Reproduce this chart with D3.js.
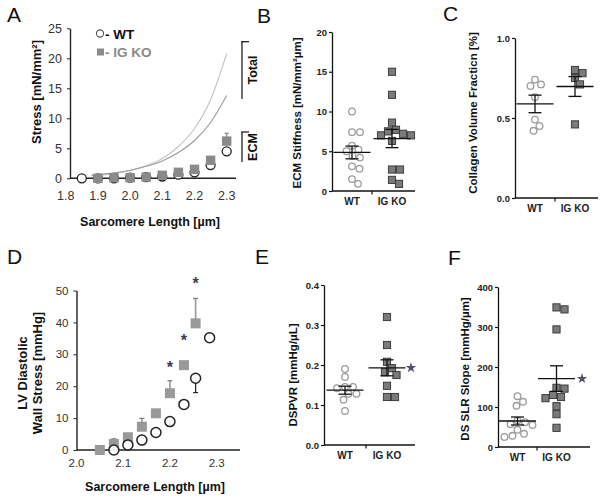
<!DOCTYPE html>
<html><head><meta charset="utf-8">
<script src="https://cdn.jsdelivr.net/npm/d3@7"></script>
<style>
body{margin:0;background:#fff}
svg{display:block}
text{font-family:"Liberation Sans",Arial,sans-serif}
</style></head>
<body><svg id="c" width="602" height="499"></svg>
<script>
// ---------- DATA ----------
// Panel A: passive stress vs sarcomere length
const aSL      = [1.85, 1.90, 1.95, 2.00, 2.05, 2.10, 2.15, 2.20, 2.25, 2.30];
const aWT      = [0.0, 0.0, 0.0, 0.1, 0.2, 0.3, 0.6, 1.0, 2.2, 4.5];
const aKO      = [null, 0.0, 0.1, 0.1, 0.2, 0.5, 1.0, 1.5, 3.0, 6.2];
const aKOErr   = [null, null, null, null, null, null, null, null, 0.3, 1.3];
const aCurveSL = [1.88, 1.90, 1.95, 2.00, 2.05, 2.10, 2.15, 2.20, 2.25, 2.30];
const aTotalKO = [0.4, 0.5, 0.8, 1.3, 2.1, 3.3, 5.3, 8.3, 13.1, 20.8];
const aTotalWT = [0.5, 0.6, 0.9, 1.35, 2.0, 2.9, 4.3, 6.3, 9.3, 13.8];
const aXTicks  = [1.8, 1.9, 2.0, 2.1, 2.2, 2.3];
const aYTicks  = [0, 5, 10, 15, 20, 25];

const groups = ["WT", "IG KO"];

// Panel B: ECM stiffness
const bWT = [10.0, 7.4, 7.4, 5.7, 5.2, 5.0, 4.4, 4.2, 3.1, 2.8, 1.5, 0.9];
const bKO = [15.0, 12.1, 8.6, 7.7, 7.5, 7.2, 7.0, 7.0, 6.3, 2.7, 2.7, 1.4, 0.9];
const bMean = [4.85, 6.6];
const bSem  = [0.8, 1.15];
const bTicks = [0, 5, 10, 15, 20];

// Panel C: collagen volume fraction
const cWT = [0.74, 0.71, 0.70, 0.63, 0.49, 0.45, 0.42];
const cKO = [0.80, 0.78, 0.75, 0.71, 0.46];
const cMean = [0.588, 0.697];
const cSem  = [0.055, 0.062];
const cTicks = [0.0, 0.5, 1.0];

// Panel D: LV diastolic wall stress vs sarcomere length
const dKOSL = [2.05, 2.08, 2.11, 2.14, 2.17, 2.20, 2.23, 2.255];
const dKO   = [0.0, 1.9, 4.0, 7.3, 11.5, 17.8, 26.6, 39.7];
const dKOErr= [null, 1.6, null, 2.6, null, 3.9, null, 7.8];
const dWTSL = [2.08, 2.11, 2.14, 2.17, 2.20, 2.23, 2.255, 2.285];
const dWT   = [0.0, 1.6, 3.1, 5.5, 8.9, 14.3, 22.5, 35.2];
const dWTErr= [null, null, null, null, 1.3, null, 4.5, null];
const dStarSL = [2.20, 2.23, 2.255];
const dStarY  = [26, 34.5, 52.5];
const dXTicks = [2.0, 2.1, 2.2, 2.3];
const dYTicks = [0, 10, 20, 30, 40, 50];

// Panel E: DSPVR
const eWT = [0.19, 0.17, 0.145, 0.145, 0.142, 0.128, 0.128, 0.113, 0.085];
const eKO = [0.32, 0.25, 0.208, 0.192, 0.182, 0.175, 0.148, 0.12, 0.12];
const eMean = [0.137, 0.193];
const eSem  = [0.010, 0.020];
const eTicks = [0.0, 0.1, 0.2, 0.3, 0.4];

// Panel F: DS SLR slope
const fWT = [127, 113, 103, 66, 62, 57, 55, 43, 33, 28, 25];
const fKO = [349, 344, 294, 148, 146, 130, 125, 122, 102, 82, 48];
const fMean = [65, 171];
const fSem  = [10, 32];
const fTicks = [0, 100, 200, 300, 400];

// ---------- DRAW ----------
const svg = d3.select("#c");
const FONT = '"Liberation Sans",Arial,sans-serif';

function panelLetter(t, x, y) {
  svg.append("text").attr("x", x).attr("y", y).attr("font-size", 21).attr("fill", "#111").text(t);
}
function vLabel(lines, x, cy, size, gap) {
  lines.forEach((t, i) => {
    svg.append("text").attr("transform", `translate(${x + i * gap},${cy}) rotate(-90)`)
      .attr("text-anchor", "middle").attr("font-size", size).attr("font-weight", "bold")
      .attr("fill", "#111").text(t);
  });
}

// ===== Panel A =====
(function () {
  const x = d3.scaleLinear().domain([1.8, 2.3]).range([65.7, 226.7]);
  const y = d3.scaleLinear().domain([0, 25]).range([178.3, 28.3]);
  const g = svg.append("g");
  // curves
  const line = d3.line().x((d, i) => x(aCurveSL[i])).y(d => y(d)).curve(d3.curveMonotoneX);
  g.append("path").attr("d", line(aTotalKO)).attr("fill", "none").attr("stroke", "#c4c4c4").attr("stroke-width", 1.1);
  g.append("path").attr("d", line(aTotalWT)).attr("fill", "none").attr("stroke", "#9a9a9a").attr("stroke-width", 1.1);
  // axes
  const ya = g.append("g").attr("transform", "translate(70,0)")
    .call(d3.axisLeft(y).tickValues(aYTicks).tickSize(3).tickSizeOuter(0).tickPadding(5));
  ya.select(".domain").attr("stroke", "#222").attr("stroke-width", 1.4);
  ya.selectAll(".tick line").attr("stroke", "#222");
  ya.selectAll("text").attr("font-size", 12.5).attr("fill", "#333").attr("font-family", FONT);
  g.append("line").attr("x1", 70).attr("x2", 236).attr("y1", y(0)).attr("y2", y(0)).attr("stroke", "#222").attr("stroke-width", 1.4);
  aXTicks.forEach(v => {
    g.append("text").attr("x", x(v)).attr("y", 200).attr("text-anchor", "middle")
      .attr("font-size", 12.5).attr("fill", "#333").text(d3.format(".1f")(v));
  });
  // KO error bars
  aKO.forEach((v, i) => {
    if (v == null || aKOErr[i] == null) return;
    g.append("line").attr("x1", x(aSL[i])).attr("x2", x(aSL[i])).attr("y1", y(v)).attr("y2", y(v + aKOErr[i])).attr("stroke", "#8a8a8a").attr("stroke-width", 1.3);
    g.append("line").attr("x1", x(aSL[i]) - 2).attr("x2", x(aSL[i]) + 2).attr("y1", y(v + aKOErr[i])).attr("y2", y(v + aKOErr[i])).attr("stroke", "#8a8a8a").attr("stroke-width", 1.3);
  });
  // WT circles
  aWT.forEach((v, i) => {
    g.append("circle").attr("cx", x(aSL[i])).attr("cy", y(v)).attr("r", 4.5)
      .attr("fill", "#fff").attr("stroke", "#222").attr("stroke-width", 1.3);
  });
  // KO squares
  aKO.forEach((v, i) => {
    if (v == null) return;
    g.append("rect").attr("x", x(aSL[i]) - 4.7).attr("y", y(v) - 4.7).attr("width", 9.4).attr("height", 9.4).attr("fill", "#8a8a8a");
  });
  // legend
  g.append("circle").attr("cx", 100).attr("cy", 33.5).attr("r", 3.6).attr("fill", "#fff").attr("stroke", "#555").attr("stroke-width", 1.1);
  g.append("text").attr("x", 105).attr("y", 38.5).attr("font-size", 13.5).attr("font-weight", "bold").attr("fill", "#111").text("- WT");
  g.append("rect").attr("x", 97).attr("y", 48.5).attr("width", 7).attr("height", 7).attr("fill", "#8a8a8a");
  g.append("text").attr("x", 105).attr("y", 57).attr("font-size", 13.5).attr("font-weight", "bold").attr("fill", "#8a8a8a").text("- IG KO");
  // brackets
  [[41.7, 99, "Total", 70], [132, 162, "ECM", 147]].forEach(b => {
    g.append("line").attr("x1", 242).attr("x2", 242).attr("y1", b[0]).attr("y2", b[1]).attr("stroke", "#222").attr("stroke-width", 1.3);
    g.append("line").attr("x1", 241).attr("x2", 249).attr("y1", b[0]).attr("y2", b[0]).attr("stroke", "#222").attr("stroke-width", 1.3);
    g.append("text").attr("transform", `translate(257,${b[3]}) rotate(-90)`).attr("text-anchor", "middle")
      .attr("font-size", 12.5).attr("font-weight", "bold").attr("fill", "#111").text(b[2]);
  });
  vLabel(["Stress [mN/mm²]"], 41, 92, 13, 0);
  svg.append("text").attr("x", 150).attr("y", 226).attr("text-anchor", "middle").attr("font-size", 12.5)
    .attr("font-weight", "bold").attr("fill", "#111").text("Sarcomere Length [µm]");
})();
panelLetter("A", 7, 22);

// ===== Panel D =====
(function () {
  const x = d3.scaleLinear().domain([2.0, 2.35]).range([76.5, 240]);
  const y = d3.scaleLinear().domain([0, 50]).range([450, 290.5]);
  const g = svg.append("g");
  const ya = g.append("g").attr("transform", "translate(76.5,0)")
    .call(d3.axisLeft(y).tickValues(dYTicks).tickSize(3).tickSizeOuter(0).tickPadding(5));
  ya.select(".domain").attr("stroke", "#222").attr("stroke-width", 1.4);
  ya.selectAll(".tick line").attr("stroke", "#222");
  ya.selectAll("text").attr("font-size", 11.5).attr("fill", "#333").attr("font-family", FONT);
  g.append("line").attr("x1", 76.5).attr("x2", 240).attr("y1", y(0)).attr("y2", y(0)).attr("stroke", "#222").attr("stroke-width", 1.4);
  dXTicks.forEach(v => {
    g.append("text").attr("x", x(v)).attr("y", 467).attr("text-anchor", "middle")
      .attr("font-size", 11.5).attr("fill", "#333").text(d3.format(".1f")(v));
  });
  // error bars
  dKO.forEach((v, i) => {
    if (dKOErr[i] == null) return;
    const cx = x(dKOSL[i]);
    g.append("line").attr("x1", cx).attr("x2", cx).attr("y1", y(v)).attr("y2", y(v + dKOErr[i])).attr("stroke", "#999").attr("stroke-width", 1.6);
    g.append("line").attr("x1", cx - 2.5).attr("x2", cx + 2.5).attr("y1", y(v + dKOErr[i])).attr("y2", y(v + dKOErr[i])).attr("stroke", "#777").attr("stroke-width", 1.2);
  });
  dWT.forEach((v, i) => {
    if (dWTErr[i] == null) return;
    const cx = x(dWTSL[i]);
    g.append("line").attr("x1", cx).attr("x2", cx).attr("y1", y(v)).attr("y2", y(v - dWTErr[i])).attr("stroke", "#222").attr("stroke-width", 1.2);
    g.append("line").attr("x1", cx - 2.5).attr("x2", cx + 2.5).attr("y1", y(v - dWTErr[i])).attr("y2", y(v - dWTErr[i])).attr("stroke", "#222").attr("stroke-width", 1.2);
  });
  dKO.forEach((v, i) => {
    g.append("rect").attr("x", x(dKOSL[i]) - 5).attr("y", y(v) - 5).attr("width", 10).attr("height", 10).attr("fill", "#999");
  });
  dWT.forEach((v, i) => {
    g.append("circle").attr("cx", x(dWTSL[i])).attr("cy", y(v)).attr("r", 5)
      .attr("fill", "#fff").attr("fill-opacity", 0.9).attr("stroke", "#222").attr("stroke-width", 1.5);
  });
  dStarSL.forEach((s, i) => {
    g.append("text").attr("x", x(s)).attr("y", y(dStarY[i]) + 6).attr("text-anchor", "middle")
      .attr("font-size", 16).attr("font-weight", "bold").attr("fill", "#3c3c58").text("*");
  });
  vLabel(["LV Diastolic", "Wall Stress [mmHg]"], 27, 373, 13, 15);
  svg.append("text").attr("x", 155).attr("y", 491).attr("text-anchor", "middle").attr("font-size", 12.5)
    .attr("font-weight", "bold").attr("fill", "#111").text("Sarcomere Length [µm]");
})();
panelLetter("D", 7, 264);

// ===== Dot plots =====
function dodge(vals, y, minDist) {
  const idx = vals.map((v, i) => i).sort((a, b) => vals[b] - vals[a]);
  const placed = [];
  const off = new Array(vals.length).fill(0);
  idx.forEach(i => {
    const py = y(vals[i]);
    for (let k = 0; k < 80; k++) {
      const o = (k % 2 ? 1 : -1) * Math.ceil(k / 2) * 0.5;
      if (placed.every(p => Math.hypot(p[0] - o, p[1] - py) >= minDist)) {
        off[i] = o; placed.push([o, py]); break;
      }
    }
  });
  return off;
}

function dotPlot(o) {
  const g = svg.append("g");
  const y = d3.scaleLinear().domain([0, o.max]).range([o.y0, o.y1]);
  const xb = d3.scaleBand().domain(groups).range([o.x0, 2 * o.div - o.x0]);
  const cx = gname => xb(gname) + xb.bandwidth() / 2;
  const ya = g.append("g").attr("transform", `translate(${o.x0},0)`)
    .call(d3.axisLeft(y).tickValues(o.ticks).tickFormat(o.fmt).tickSize(3).tickSizeOuter(0).tickPadding(2));
  ya.select(".domain").attr("stroke", "#111").attr("stroke-width", 1.3);
  ya.selectAll(".tick line").attr("stroke", "#111").attr("stroke-width", 1.2);
  ya.selectAll("text").attr("font-size", 9.5).attr("font-weight", "bold").attr("fill", "#222").attr("font-family", FONT);
  g.append("line").attr("x1", o.x0).attr("x2", o.xEnd).attr("y1", o.y0).attr("y2", o.y0).attr("stroke", "#111").attr("stroke-width", 1.3);
  g.append("line").attr("x1", o.div).attr("x2", o.div).attr("y1", o.y0).attr("y2", o.y0 + 3.5).attr("stroke", "#111").attr("stroke-width", 1.2);
  groups.forEach(gn => {
    g.append("text").attr("x", cx(gn)).attr("y", o.y0 + 14).attr("text-anchor", "middle")
      .attr("font-size", 10).attr("font-weight", "bold").attr("fill", "#222").text(gn);
  });
  // points
  const wOff = dodge(o.wt, y, 7.6);
  o.wt.forEach((v, i) => {
    g.append("circle").attr("cx", cx("WT") + wOff[i]).attr("cy", y(v)).attr("r", 3.3)
      .attr("fill", "#fff").attr("stroke", "#9c9c9c").attr("stroke-width", 1.3);
  });
  const kOff = dodge(o.ko, y, 8);
  o.ko.forEach((v, i) => {
    g.append("rect").attr("x", cx("IG KO") + kOff[i] - 3.6).attr("y", y(v) - 3.6).attr("width", 7.2).attr("height", 7.2)
      .attr("fill", "#7a7a7a").attr("stroke", "#333").attr("stroke-width", 0.9);
  });
  // mean +- SEM
  groups.forEach((gn, i) => {
    const c = cx(gn), m = o.mean[i], s = o.sem[i];
    g.append("line").attr("x1", c - 18.5).attr("x2", c + 18.5).attr("y1", y(m)).attr("y2", y(m)).attr("stroke", "#111").attr("stroke-width", 1.3);
    g.append("line").attr("x1", c).attr("x2", c).attr("y1", y(m - s)).attr("y2", y(m + s)).attr("stroke", "#111").attr("stroke-width", 1.3);
    [m - s, m + s].forEach(e => g.append("line").attr("x1", c - 6.5).attr("x2", c + 6.5).attr("y1", y(e)).attr("y2", y(e)).attr("stroke", "#111").attr("stroke-width", 1.3));
  });
  if (o.star) {
    g.append("path").attr("d", d3.symbol().type(d3.symbolStar).size(34)())
      .attr("transform", `translate(${o.starX},${y(o.mean[1])})`).attr("fill", "#50506e");
  }
  vLabel([o.label], o.labelX, o.labelY, 11.5, 0);
}

dotPlot({ x0: 332, y0: 191, y1: 32, max: 20, ticks: bTicks, fmt: d3.format("d"), div: 372, xEnd: 415,
  wt: bWT, ko: bKO, mean: bMean, sem: bSem, label: "ECM Stiffness [mN/mm²µm]", labelX: 301, labelY: 113 });
panelLetter("B", 257, 23);

dotPlot({ x0: 515, y0: 198, y1: 38, max: 1, ticks: cTicks, fmt: d3.format(".1f"), div: 555, xEnd: 598,
  wt: cWT, ko: cKO, mean: cMean, sem: cSem, label: "Collagen Volume Fracticn [%]", labelX: 477, labelY: 113 });
panelLetter("C", 443, 21);

dotPlot({ x0: 324, y0: 445, y1: 285, max: 0.4, ticks: eTicks, fmt: d3.format(".1f"), div: 366, xEnd: 415,
  wt: eWT, ko: eKO, mean: eMean, sem: eSem, label: "DSPVR [mmHg/µL]", labelX: 297, labelY: 375,
  star: true, starX: 411 });
panelLetter("E", 255, 264);

dotPlot({ x0: 498, y0: 447, y1: 287, max: 400, ticks: fTicks, fmt: d3.format("d"), div: 537, xEnd: 590,
  wt: fWT, ko: fKO, mean: fMean, sem: fSem, label: "DS SLR Slope [mmHg/µm]", labelX: 469, labelY: 369,
  star: true, starX: 582 });
panelLetter("F", 448, 265);
</script></body></html>
